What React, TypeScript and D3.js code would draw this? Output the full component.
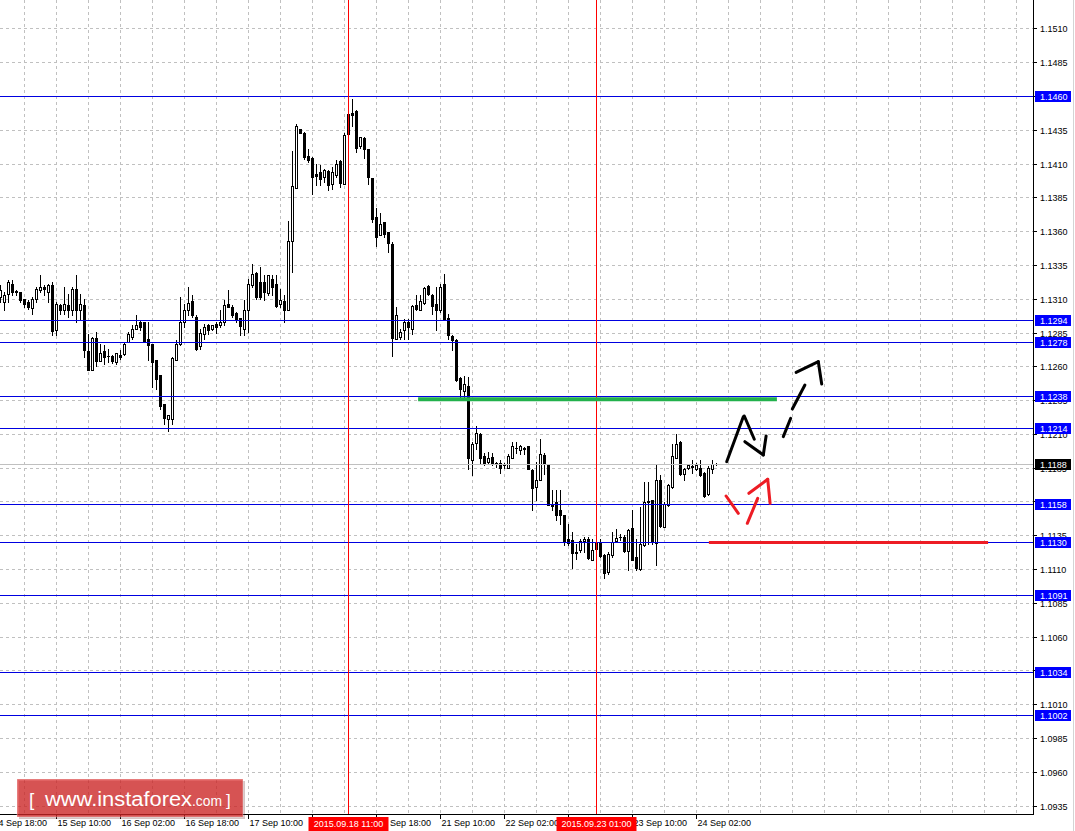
import React from 'react';
import * as d3 from 'd3';

// ---- candle data (EURUSD H1), bar 0 = 14 Sep 20:00 ----
const barOpen = [
  1.13117, 1.13080, 1.13141, 1.13215, 1.13160, 1.13154, 1.13104, 1.13080, 1.13038, 1.13104,
  1.13166, 1.13191, 1.13154, 1.13208, 1.12870, 1.13055, 1.13018, 1.13055, 1.13018, 1.13178,
  1.13018, 1.13055, 1.12717, 1.12574, 1.12814, 1.12643, 1.12717, 1.12680, 1.12678, 1.12638,
  1.12685, 1.12693, 1.12784, 1.12821, 1.12883, 1.12932, 1.12932, 1.12809, 1.12772, 1.12648,
  1.12537, 1.12328, 1.12212, 1.12217, 1.12653, 1.12772, 1.12932, 1.13018, 1.13085, 1.12969,
  1.12752, 1.12846, 1.12907, 1.12883, 1.12915, 1.12907, 1.12932, 1.13067, 1.13043, 1.12998,
  1.12964, 1.12883, 1.13018, 1.13203, 1.13297, 1.13228, 1.13228, 1.13149, 1.13252, 1.13215,
  1.13067, 1.13085, 1.13018, 1.13531, 1.13923, 1.14362, 1.14330, 1.14157, 1.14147, 1.14024,
  1.14041, 1.14004, 1.14046, 1.13955, 1.14016, 1.14120, 1.13955, 1.14325, 1.14478, 1.14490,
  1.14231, 1.14293, 1.14209, 1.13997, 1.13708, 1.13573, 1.13671, 1.13597, 1.13506, 1.12808,
  1.12821, 1.12870, 1.12932, 1.12882, 1.13055, 1.13023, 1.13075, 1.13195, 1.13129, 1.13067,
  1.13023, 1.13210, 1.12964, 1.12826, 1.12796, 1.12520, 1.12422, 1.12456, 1.11914, 1.12037,
  1.12106, 1.11938, 1.11896, 1.11933, 1.11886, 1.11891, 1.11879, 1.11854, 1.11928, 1.12002,
  1.11988, 1.11997, 1.12012, 1.11840, 1.11711, 1.11766, 1.11946, 1.11872, 1.11588, 1.11600,
  1.11539, 1.11502, 1.11329, 1.11317, 1.11230, 1.11243, 1.11312, 1.11329, 1.11174, 1.11297,
  1.11304, 1.11206, 1.11082, 1.11206, 1.11312, 1.11343, 1.11341, 1.11238, 1.11410, 1.11193,
  1.11107, 1.11280, 1.11603, 1.11618, 1.11297, 1.11765, 1.11415, 1.11576, 1.11711, 1.11928,
  1.12044, 1.11810, 1.11852, 1.11866, 1.11847, 1.11854, 1.11815, 1.11657, 1.11847, 1.11884,
];
const barHigh = [
  1.13203, 1.13154, 1.13240, 1.13240, 1.13166, 1.13154, 1.13104, 1.13092, 1.13117, 1.13191,
  1.13277, 1.13203, 1.13215, 1.13228, 1.13080, 1.13067, 1.13191, 1.13141, 1.13191, 1.13277,
  1.13141, 1.13104, 1.12846, 1.12821, 1.12858, 1.12772, 1.12759, 1.12735, 1.12685, 1.12705,
  1.12722, 1.12784, 1.12858, 1.12907, 1.12981, 1.12944, 1.12932, 1.12932, 1.12772, 1.12648,
  1.12537, 1.12328, 1.12241, 1.12673, 1.12796, 1.13117, 1.13067, 1.13191, 1.13129, 1.12981,
  1.12883, 1.12920, 1.12920, 1.12907, 1.12932, 1.13018, 1.13092, 1.13166, 1.13055, 1.13006,
  1.12964, 1.13092, 1.13252, 1.13363, 1.13302, 1.13339, 1.13277, 1.13277, 1.13277, 1.13277,
  1.13178, 1.13129, 1.13676, 1.14194, 1.14399, 1.14362, 1.14337, 1.14214, 1.14152, 1.14098,
  1.14090, 1.14066, 1.14053, 1.14078, 1.14127, 1.14127, 1.14330, 1.14490, 1.14583, 1.14497,
  1.14300, 1.14300, 1.14214, 1.13997, 1.13777, 1.13738, 1.13671, 1.13597, 1.13523, 1.13043,
  1.12882, 1.12957, 1.12957, 1.13055, 1.13129, 1.13129, 1.13191, 1.13203, 1.13141, 1.13191,
  1.13215, 1.13284, 1.12993, 1.12833, 1.12809, 1.12525, 1.12530, 1.12525, 1.12044, 1.12160,
  1.12111, 1.11963, 1.11970, 1.11963, 1.11896, 1.11914, 1.11891, 1.11958, 1.12044, 1.12044,
  1.12020, 1.12007, 1.12012, 1.11847, 1.11896, 1.12069, 1.11963, 1.11872, 1.11687, 1.11687,
  1.11687, 1.11502, 1.11440, 1.11378, 1.11292, 1.11329, 1.11341, 1.11341, 1.11329, 1.11312,
  1.11329, 1.11218, 1.11230, 1.11378, 1.11403, 1.11366, 1.11354, 1.11403, 1.11539, 1.11329,
  1.11563, 1.11748, 1.11748, 1.11618, 1.11871, 1.11797, 1.11600, 1.11736, 1.12027, 1.12106,
  1.12051, 1.11854, 1.11884, 1.11908, 1.11889, 1.11908, 1.11822, 1.11864, 1.11913, 1.11889,
];
const barLow = [
  1.13080, 1.13018, 1.13080, 1.13129, 1.13134, 1.13080, 1.13043, 1.13030, 1.12993, 1.13080,
  1.13154, 1.13129, 1.13080, 1.12833, 1.12833, 1.12993, 1.12993, 1.12969, 1.12981, 1.12932,
  1.12957, 1.12673, 1.12574, 1.12574, 1.12604, 1.12643, 1.12619, 1.12636, 1.12629, 1.12624,
  1.12661, 1.12685, 1.12784, 1.12808, 1.12883, 1.12870, 1.12784, 1.12648, 1.12451, 1.12439,
  1.12291, 1.12175, 1.12126, 1.12180, 1.12648, 1.12759, 1.12895, 1.12981, 1.12969, 1.12722,
  1.12735, 1.12809, 1.12846, 1.12870, 1.12851, 1.12895, 1.12907, 1.13043, 1.12969, 1.12932,
  1.12833, 1.12833, 1.12858, 1.13191, 1.13104, 1.13104, 1.13092, 1.13129, 1.13129, 1.13043,
  1.13043, 1.12932, 1.13018, 1.13301, 1.13923, 1.14330, 1.14140, 1.14115, 1.13881, 1.13942,
  1.13942, 1.13967, 1.13905, 1.13918, 1.14004, 1.13930, 1.13955, 1.14310, 1.14379, 1.14189,
  1.14221, 1.14147, 1.13955, 1.13671, 1.13491, 1.13573, 1.13560, 1.13449, 1.12680, 1.12808,
  1.12808, 1.12808, 1.12808, 1.12845, 1.13018, 1.13018, 1.13067, 1.13129, 1.12993, 1.12870,
  1.13006, 1.12949, 1.12808, 1.12722, 1.12495, 1.12377, 1.12377, 1.11847, 1.11798, 1.11995,
  1.11884, 1.11872, 1.11889, 1.11872, 1.11859, 1.11815, 1.11854, 1.11854, 1.11928, 1.11963,
  1.11953, 1.11958, 1.11847, 1.11539, 1.11613, 1.11761, 1.11810, 1.11576, 1.11539, 1.11465,
  1.11440, 1.11280, 1.11280, 1.11112, 1.11181, 1.11230, 1.11230, 1.11181, 1.11169, 1.11243,
  1.11193, 1.11041, 1.11070, 1.11193, 1.11304, 1.11317, 1.11230, 1.11100, 1.11169, 1.11100,
  1.11100, 1.11273, 1.11292, 1.11292, 1.11132, 1.11415, 1.11415, 1.11568, 1.11706, 1.11928,
  1.11797, 1.11761, 1.11847, 1.11815, 1.11839, 1.11790, 1.11637, 1.11650, 1.11815, 1.11871,
];
const barClose = [
  1.13166, 1.13129, 1.13228, 1.13154, 1.13150, 1.13097, 1.13067, 1.13043, 1.13104, 1.13178,
  1.13191, 1.13178, 1.13208, 1.12865, 1.13067, 1.13018, 1.13067, 1.13018, 1.13178, 1.13018,
  1.13067, 1.12722, 1.12579, 1.12814, 1.12641, 1.12705, 1.12673, 1.12680, 1.12643, 1.12705,
  1.12673, 1.12772, 1.12841, 1.12878, 1.12907, 1.12895, 1.12789, 1.12759, 1.12636, 1.12513,
  1.12308, 1.12222, 1.12241, 1.12668, 1.12772, 1.12932, 1.13018, 1.13072, 1.12981, 1.12735,
  1.12853, 1.12895, 1.12870, 1.12907, 1.12895, 1.12932, 1.13055, 1.13043, 1.12981, 1.12944,
  1.12900, 1.13018, 1.13215, 1.13289, 1.13117, 1.13117, 1.13154, 1.13277, 1.13191, 1.13048,
  1.13097, 1.13018, 1.13528, 1.13935, 1.14379, 1.14330, 1.14152, 1.14127, 1.14004, 1.14009,
  1.13992, 1.14053, 1.13947, 1.14039, 1.14103, 1.13960, 1.14317, 1.14473, 1.14460, 1.14219,
  1.14300, 1.14214, 1.14004, 1.13691, 1.13560, 1.13654, 1.13580, 1.13516, 1.12816, 1.12986,
  1.12858, 1.12932, 1.12895, 1.13048, 1.13030, 1.13087, 1.13185, 1.13136, 1.13050, 1.13018,
  1.13191, 1.12954, 1.12833, 1.12801, 1.12500, 1.12439, 1.12471, 1.11928, 1.12027, 1.12113,
  1.11926, 1.11884, 1.11928, 1.11884, 1.11882, 1.11854, 1.11875, 1.11938, 1.12012, 1.11998,
  1.12012, 1.11993, 1.11847, 1.11704, 1.11761, 1.11958, 1.11879, 1.11576, 1.11568, 1.11502,
  1.11502, 1.11312, 1.11297, 1.11223, 1.11223, 1.11312, 1.11329, 1.11186, 1.11248, 1.11255,
  1.11198, 1.11075, 1.11218, 1.11304, 1.11334, 1.11339, 1.11238, 1.11396, 1.11174, 1.11115,
  1.11287, 1.11600, 1.11610, 1.11304, 1.11761, 1.11420, 1.11588, 1.11728, 1.11938, 1.12027,
  1.11810, 1.11847, 1.11871, 1.11862, 1.11876, 1.11797, 1.11642, 1.11854, 1.11879, 1.11884,
];

// ---- axes ----
const priceTickLabels = [
  '1.0935', '1.0960', '1.0985', '1.1010', '1.1035', '1.1060', '1.1085', '1.1110', '1.1135',
  '1.1160', '1.1185', '1.1210', '1.1235', '1.1260', '1.1285', '1.1310', '1.1335', '1.1360',
  '1.1385', '1.1410', '1.1435', '1.1460', '1.1485', '1.1510',
];
const timeLabelBars = [-2, 14, 30, 46, 62, 78, 94, 110, 126, 142, 158, 174];
const timeLabelTexts = [
  '14 Sep 18:00', '15 Sep 10:00', '16 Sep 02:00', '16 Sep 18:00', '17 Sep 10:00', '18 Sep 02:00',
  '18 Sep 18:00', '21 Sep 10:00', '22 Sep 02:00', '22 Sep 18:00', '23 Sep 10:00', '24 Sep 02:00',
];
const markerBars = [87, 149];
const markerTexts = ['2015.09.18 11:00', '2015.09.23 01:00'];

// ---- horizontal levels ----
const levelPrices = [1.146, 1.1294, 1.1278, 1.1238, 1.1214, 1.1158, 1.113, 1.1091, 1.1034, 1.1002];
const levelTexts = ['1.1460', '1.1294', '1.1278', '1.1238', '1.1214', '1.1158', '1.1130', '1.1091', '1.1034', '1.1002'];
const currentPrice = 1.1188;
const currentText = '1.1188';

// ---- hand drawn annotations: [barFrom, priceFrom, barTo, priceTo] ----
const greenSegment = [104.4, 1.1236, 194.1, 1.1236];
const redSegment = [177.1, 1.113, 246.9, 1.113];
const blackStrokes = [
  [181.55, 1.11898, 185.7, 1.12231],
  [185.95, 1.12236, 188.45, 1.12064],
  [186.1, 1.12046, 190.7, 1.11948],
  [190.7, 1.11948, 191.4, 1.12088],
  [195.7, 1.12083, 197.55, 1.12219],
  [197.95, 1.12288, 201.1, 1.12465],
  [198.9, 1.12559, 204.45, 1.12638],
  [204.45, 1.12638, 205.3, 1.12473],
];
const redStrokes = [
  [181.4, 1.11644, 184.45, 1.11516],
  [186.7, 1.11442, 189.3, 1.11627],
  [187.1, 1.11664, 191.8, 1.11768],
  [191.8, 1.11768, 192.4, 1.1159],
];

const W = 1075;
const H = 831;
const PLOT_R = 1033;
const PLOT_B = 814;
const FONT = "'Liberation Sans', Arial, sans-serif";

export default function App() {
  const x = d3.scaleLinear().domain([0, 1]).range([0.5, 4.5]);
  const y = d3.scaleLinear().domain([1.146, 1.113]).range([96.5, 542.5]);
  const py = (p: number) => Math.round(y(p) - 0.5) + 0.5;
  const ry = (p: number) => Math.round(y(p));

  const gridBars = d3.range(-2, 258, 8);
  const tickPrices = priceTickLabels.map((t) => +t);

  const candles = barOpen.map((o, i) => {
    const c = barClose[i];
    const cx = x(i);
    const yH = ry(barHigh[i]);
    const yL = ry(barLow[i]);
    const yO = ry(o);
    const yC = ry(c);
    const top = Math.min(yO, yC);
    const bot = Math.max(yO, yC);
    const bull = c > o;
    return (
      <g key={i}>
        <rect x={cx - 0.5} y={yH} width={1} height={Math.max(1, yL - yH + 1)} fill="#000" />
        <rect x={cx - 1.5} y={top} width={3} height={bot - top + 1} fill="#000" />
        {bull && bot - top > 1 && (
          <rect x={cx - 0.5} y={top + 1} width={1} height={bot - top - 1} fill="#fff" />
        )}
      </g>
    );
  });

  return (
    <svg
      width={W}
      height={H}
      style={{ position: 'absolute', left: 0, top: 0, display: 'block' }}
      fontFamily={FONT}
    >
      <rect x={0} y={0} width={W} height={H} fill="#fff" />
      {/* grid */}
      <g stroke="#c0c0c0" strokeWidth={1} strokeDasharray="3,3">
        {gridBars.map((b) => (
          <line key={'gv' + b} x1={x(b)} x2={x(b)} y1={0} y2={PLOT_B} />
        ))}
        {tickPrices.map((p) => (
          <line key={'gh' + p} x1={0} x2={PLOT_R} y1={py(p)} y2={py(p)} />
        ))}
      </g>

      {candles}

      {/* level lines */}
      <g stroke="#0000e0" strokeWidth={1}>
        {levelPrices.map((p) => (
          <line key={'lv' + p} x1={0} x2={PLOT_R} y1={py(p)} y2={py(p)} />
        ))}
      </g>
      <line x1={0} x2={PLOT_R} y1={py(currentPrice)} y2={py(currentPrice)} stroke="#c0c0c0" strokeWidth={1} />

      {/* vertical red markers */}
      {markerBars.map((b) => (
        <line key={'mv' + b} x1={x(b)} x2={x(b)} y1={0} y2={PLOT_B} stroke="#ff0000" strokeWidth={1} />
      ))}

      {/* annotations */}
      <line
        x1={x(greenSegment[0])}
        y1={y(greenSegment[1])}
        x2={x(greenSegment[2])}
        y2={y(greenSegment[3])}
        stroke="#22b14c"
        strokeWidth={4}
      />
      <line
        x1={x(redSegment[0])}
        y1={y(redSegment[1])}
        x2={x(redSegment[2])}
        y2={y(redSegment[3])}
        stroke="#ed1c24"
        strokeWidth={3}
      />
      {blackStrokes.map((s, i) => (
        <line
          key={'bs' + i}
          x1={x(s[0])}
          y1={y(s[1])}
          x2={x(s[2])}
          y2={y(s[3])}
          stroke="#000"
          strokeWidth={3}
          strokeLinecap="round"
        />
      ))}
      {redStrokes.map((s, i) => (
        <line
          key={'rs' + i}
          x1={x(s[0])}
          y1={y(s[1])}
          x2={x(s[2])}
          y2={y(s[3])}
          stroke="#ed1c24"
          strokeWidth={3}
          strokeLinecap="round"
        />
      ))}

      {/* axes frame */}
      <rect x={PLOT_R + 1} y={0} width={W - PLOT_R - 1} height={H} fill="#fff" />
      <rect x={0} y={PLOT_B + 1} width={PLOT_R + 1} height={H - PLOT_B - 1} fill="#fff" />
      <line x1={PLOT_R + 0.5} x2={PLOT_R + 0.5} y1={0} y2={PLOT_B + 1} stroke="#000" />
      <line x1={0} x2={PLOT_R + 1} y1={PLOT_B + 0.5} y2={PLOT_B + 0.5} stroke="#000" />
      <line x1={W - 1.5} x2={W - 1.5} y1={0} y2={H} stroke="#d4d4d4" />

      {/* price axis */}
      {tickPrices.map((p, i) => (
        <g key={'pt' + i}>
          <line x1={PLOT_R + 1} x2={PLOT_R + 4} y1={py(p)} y2={py(p)} stroke="#000" />
          <text x={1040} y={py(p) + 3.5} fontSize={9} fill="#000">
            {priceTickLabels[i]}
          </text>
        </g>
      ))}
      {levelPrices.map((p, i) => (
        <g key={'lb' + i}>
          <rect x={1035} y={Math.floor(y(p)) - 5} width={36} height={11} fill="#0000ff" />
          <text x={1040} y={Math.floor(y(p)) + 3.5} fontSize={9} fill="#fff">
            {levelTexts[i]}
          </text>
        </g>
      ))}
      <rect x={1035} y={Math.floor(y(currentPrice)) - 5} width={36} height={11} fill="#000" />
      <text x={1040} y={Math.floor(y(currentPrice)) + 3.5} fontSize={9} fill="#fff">
        {currentText}
      </text>

      {/* time axis */}
      {timeLabelBars.map((b, i) => (
        <g key={'tl' + i}>
          <line x1={x(b)} x2={x(b)} y1={PLOT_B + 1} y2={PLOT_B + 5} stroke="#000" />
          <text x={x(b) + 1} y={826} fontSize={9} fill="#000">
            {timeLabelTexts[i]}
          </text>
        </g>
      ))}
      {markerBars.map((b, i) => (
        <g key={'ml' + i}>
          <rect x={x(b) - 40} y={817} width={80} height={14} fill="#ff0000" />
          <text x={x(b)} y={826.5} fontSize={9} fill="#fff" textAnchor="middle">
            {markerTexts[i]}
          </text>
        </g>
      ))}

      {/* watermark */}
      <g>
        <rect x={19} y={781} width={226} height={38} fill="rgba(90,20,20,0.25)" />
        <rect x={17} y={779} width={226} height={38} fill="rgba(213,39,39,0.72)" stroke="rgba(255,255,255,0.35)" strokeWidth={1} />
        <text x={29} y={806} fontSize={19} fill="#fff" fontFamily={FONT}>[</text>
        <text x={45} y={806} fontSize={20} fill="#fff" fontFamily={FONT} textLength={147} lengthAdjust="spacingAndGlyphs">
          www.instaforex
        </text>
        <text x={192} y={806} fontSize={14} fill="#fff" fontFamily={FONT} textLength={30} lengthAdjust="spacingAndGlyphs">
          .com
        </text>
        <text x={226} y={806} fontSize={17} fill="#fff" fontFamily={FONT}>]</text>
      </g>
    </svg>
  );
}
